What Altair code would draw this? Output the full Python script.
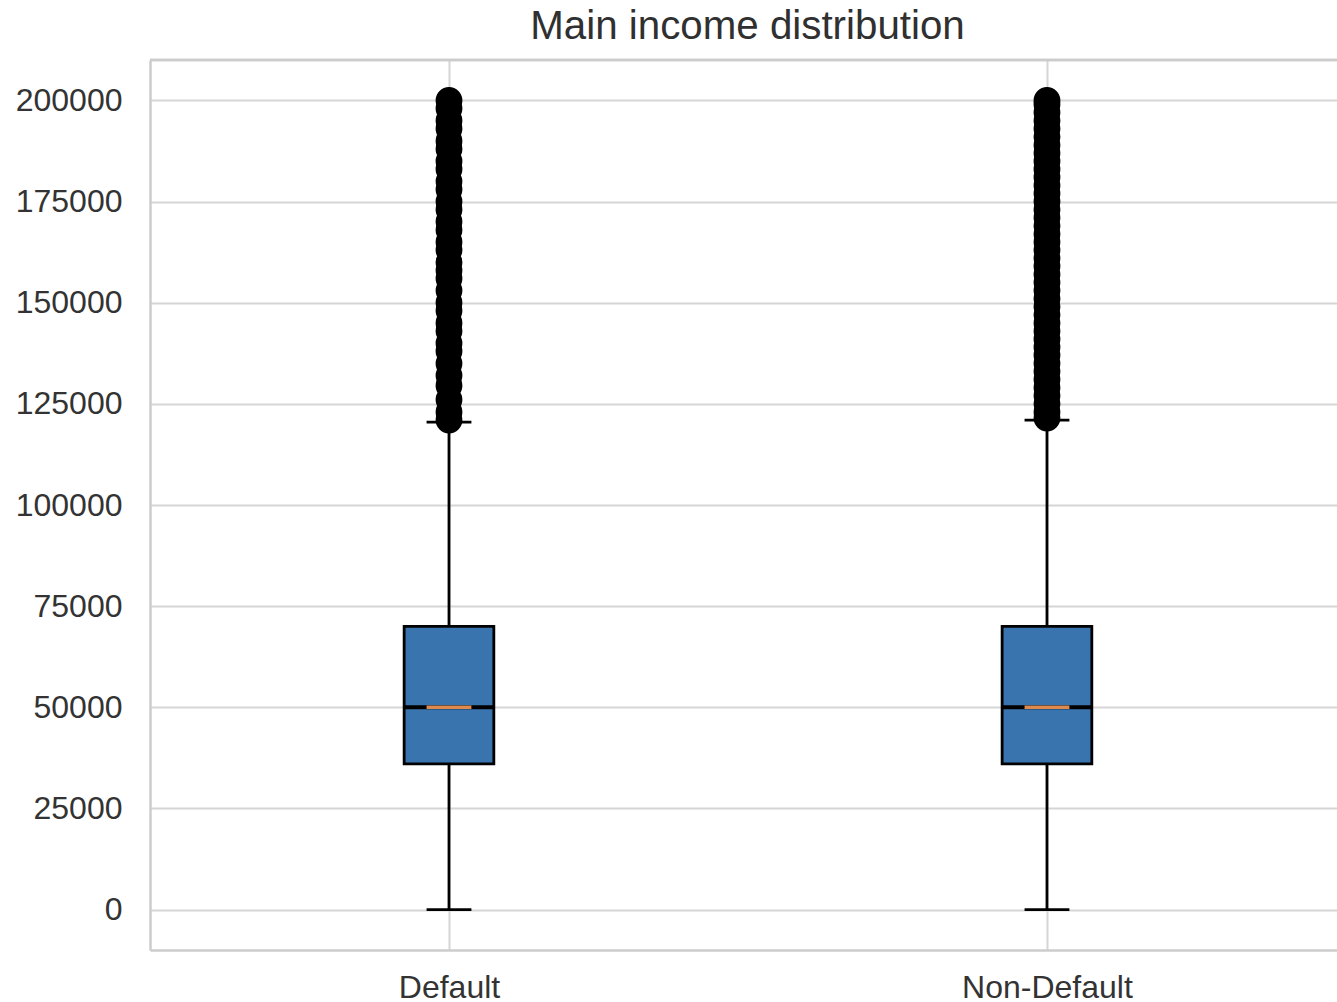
import altair as alt
import pandas as pd

# Box statistics per group
groups = ["Default", "Non-Default"]
positions = [1, 2]
whisker_low = [0, 0]
q1 = [36000, 36000]
median = [50000, 50000]
q3 = [70000, 70000]
whisker_high = [120500, 121000]

# Flier values above the upper whisker
default_outliers = [
    121000, 123000, 126000, 129500, 132000, 135000, 138000, 140000, 143000,
    145000, 148000, 150000, 153000, 156000, 158000, 160000, 163000, 165000,
    168000, 170000, 173000, 175000, 178000, 180000, 183000, 185000, 188000,
    190000, 193000, 195000, 198000, 200000,
]
non_default_outliers = [
    121500, 123000, 125000, 127000, 129000, 131000, 133000, 135000, 137000,
    139000, 141000, 143000, 145000, 147000, 149000, 151000, 153000, 155000,
    157000, 159000, 161000, 163000, 165000, 167000, 169000, 171000, 173000,
    175000, 177000, 179000, 181000, 183000, 185000, 187000, 189000, 191000,
    193000, 195000, 197000, 199000, 200000,
]

y_ticks = [0, 25000, 50000, 75000, 100000, 125000, 150000, 175000, 200000]
title_text = "Main income distribution"

BOX_HALF = 0.075
CAP_HALF = 0.0375
FONT = "Liberation Sans"
W, H = 1187, 890

stats = pd.DataFrame({
    "group": groups, "pos": positions, "wlo": whisker_low, "q1": q1,
    "median": median, "q3": q3, "whi": whisker_high,
})
fliers = pd.DataFrame({
    "pos": [1] * len(default_outliers) + [2] * len(non_default_outliers),
    "value": default_outliers + non_default_outliers,
})

x_scale = alt.Scale(domain=[0.5, 2.485], nice=False, zero=False)
y_scale = alt.Scale(domain=[-10000, 210000], nice=False, zero=False)

x_axis = alt.Axis(
    values=[1, 2], labelExpr="datum.value == 1 ? 'Default' : 'Non-Default'",
    title=None, ticks=False, labelFont=FONT, labelFontSize=32, labelColor="#333333",
    labelBaseline="alphabetic", labelPadding=47, grid=True, gridColor="#d5d5d5",
    gridWidth=2, domain=True, domainColor="#cccccc", domainWidth=2.5,
)
y_axis = alt.Axis(
    values=y_ticks, format="d", title=None, ticks=False, labelFont=FONT,
    labelFontSize=32, labelColor="#333333", labelPadding=28, grid=True,
    gridColor="#d5d5d5", gridWidth=2, domain=True, domainColor="#cccccc",
    domainWidth=2.5,
)

base = alt.Chart(stats).transform_calculate(
    box_lo=f"datum.pos - {BOX_HALF}", box_hi=f"datum.pos + {BOX_HALF}",
    cap_lo=f"datum.pos - {CAP_HALF}", cap_hi=f"datum.pos + {CAP_HALF}",
)

whisker_up = base.mark_rule(color="black", strokeWidth=2.8).encode(
    x=alt.X("pos:Q", scale=x_scale, axis=x_axis),
    y=alt.Y("q3:Q", scale=y_scale, axis=y_axis),
    y2="whi:Q",
)
whisker_down = base.mark_rule(color="black", strokeWidth=2.8).encode(
    x="pos:Q", y="wlo:Q", y2="q1:Q",
)
caps_hi = base.mark_rule(color="black", strokeWidth=2.8).encode(
    x="cap_lo:Q", x2="cap_hi:Q", y="whi:Q",
)
caps_lo = base.mark_rule(color="black", strokeWidth=2.8).encode(
    x="cap_lo:Q", x2="cap_hi:Q", y="wlo:Q",
)
boxes = base.mark_rect(fill="#3a74af", stroke="black", strokeWidth=2.8).encode(
    x="box_lo:Q", x2="box_hi:Q", y="q1:Q", y2="q3:Q",
)
median_edge = base.mark_rule(color="black", strokeWidth=4).encode(
    x="box_lo:Q", x2="box_hi:Q", y="median:Q",
)
median_line = base.mark_rule(color="#dd8a4e", strokeWidth=3.5).encode(
    x="cap_lo:Q", x2="cap_hi:Q", y="median:Q",
)
outliers = alt.Chart(fliers).mark_point(
    shape="circle", filled=True, fill="black", stroke="black",
    strokeWidth=1.5, size=640, opacity=1,
).encode(x="pos:Q", y="value:Q")

top_spine = alt.Chart(stats).mark_rule(color="#cccccc", strokeWidth=2.5).encode(
    x=alt.value(0), x2=alt.value(W), y=alt.value(0),
)

title = alt.Chart(pd.DataFrame({"t": [title_text]})).mark_text(
    font=FONT, fontSize=40.3, color="#303030", align="center",
    baseline="alphabetic",
).encode(text="t:N", x=alt.value(W / 2 + 4), y=alt.value(-21))

chart = alt.layer(
    top_spine, whisker_up, whisker_down, caps_lo, boxes, median_edge,
    median_line, caps_hi, outliers, title,
).properties(
    width=W, height=H,
    padding={"left": 150, "top": 60, "right": 0, "bottom": 52},
    autosize=alt.AutoSizeParams(type="none"),
).configure_view(stroke=None).configure(background="white")

chart.save("out.html", embed_options={"renderer": "svg", "actions": False})
